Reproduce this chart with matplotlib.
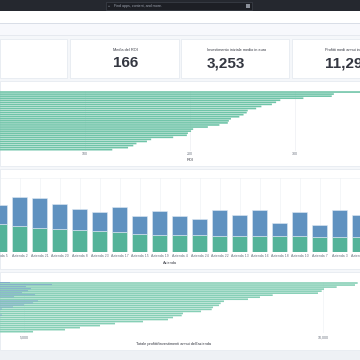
import matplotlib
matplotlib.use('Agg')
import matplotlib.pyplot as plt
from matplotlib.patches import Rectangle
import numpy as np

# ---------------- data ----------------
kpi_titles = ["Media del ROI", "Investimento iniziale medio in euro", "Profitti medi annui in euro"]
kpi_values = ["166", "3,253", "11,298"]

roi_values = [400, 337, 335, 308, 286, 282, 278, 268, 263, 255, 254, 251, 247, 239, 237,
              236, 228, 217, 203, 201, 198, 197, 184, 163, 159, 149, 146, 141, 126]
roi_ticks = [100, 200, 300]

aziende = ["Azienda 5", "Azienda 2", "Azienda 21", "Azienda 20", "Azienda 8", "Azienda 23",
           "Azienda 17", "Azienda 15", "Azienda 19", "Azienda 4", "Azienda 24", "Azienda 22",
           "Azienda 13", "Azienda 16", "Azienda 18", "Azienda 10", "Azienda 7", "Azienda 3",
           "Azienda 12"]
profitti_k = [57, 53, 48, 47, 45, 43, 41, 36, 35, 35, 35, 33, 33, 33, 32, 32, 31, 31, 30]
investimenti_k = [38, 57, 61, 50, 41, 37, 50, 36, 47, 37, 31, 51, 42, 51, 26, 49, 23, 53, 44]

tot_profitti = [10580, 10535, 10229, 10017, 9978, 9916, 9159, 8946, 8746, 8344, 8289, 8261,
                8161, 8139, 7960, 7659, 7637, 7492, 7408, 6990, 6522, 6271, 5936, 5686, 5151]
tot_investimenti = [4766, 5468, 5033, 5117, 5067, 4967, 5184, 4833, 4450, 5234, 5151, 5000,
                    4816, 4632, 4300, 4100, 4632, 3900, 3600, 3400, 3100, 2800, 2500, 2300, 2000]
tot_ticks = [5000, 10000]
tot_ticklabels = ["5,000", "10,000"]

GREEN = '#54B399'
BLUE = '#6092C0'
TXT = '#343741'
SUB = '#69707d'
FONT = ['Liberation Sans Narrow', 'Liberation Sans', 'DejaVu Sans']
plt.rcParams['font.family'] = FONT

W = H = 360
fig = plt.figure(figsize=(3.6, 3.6), dpi=100, facecolor='#f5f7fa')


def fx(x):
    return x / W


def fy(y):
    return 1 - y / H


def rect(x0, y0, x1, y1, fc, ec='none', lw=0, z=-5):
    fig.patches.append(Rectangle((fx(x0), fy(y1)), (x1 - x0) / W, (y1 - y0) / H,
                                 transform=fig.transFigure, facecolor=fc,
                                 edgecolor=ec, linewidth=lw, zorder=z))


def txt(x, y, s, **kw):
    fig.text(fx(x), fy(y), s, **kw)


def add_ax(x0, y0, x1, y1):
    ax = fig.add_axes([fx(x0), fy(y1), (x1 - x0) / W, (y1 - y0) / H])
    ax.set_facecolor('none')
    for s in ax.spines.values():
        s.set_visible(False)
    return ax


# ---------------- chrome ----------------
rect(0, 0, 360, 11, '#25282f')
rect(106, 1.8, 252, 9.6, '#1d1f25', ec='#454954', lw=0.4)
txt(109, 6.0, '○', fontsize=2.4, color='#a0a6b2', va='center', ha='center')
txt(114, 6.0, 'Find apps, content, and more.', fontsize=2.6, color='#a0a6b2', va='center')
rect(245.5, 4.2, 249.5, 7.6, '#8a8f99')
rect(0, 11, 360, 23, 'white')
rect(0, 23, 360, 24, '#d9dee7')
rect(0, 24, 360, 35, '#f7f8fc')
rect(0, 35, 360, 36, '#e6e9ef')

# KPI cards
cards = [(0, 67), (70, 179), (181, 289), (292, 362)]
for (a, b) in cards:
    rect(a, 39, b, 78, 'white', ec='#e3e7ee', lw=0.5)
text_x = [113, 207, 325]
for x, t, v in zip(text_x, kpi_titles, kpi_values):
    txt(x, 51, t, fontsize=2.8, color=TXT, va='baseline')
    txt(x, 67, v, fontsize=11, color=TXT, weight='bold', va='baseline')

# panels
rect(0, 81, 360, 166, 'white', ec='#e3e7ee', lw=0.5)
rect(0, 168.5, 360, 268.5, 'white', ec='#e3e7ee', lw=0.5)
rect(0, 272, 360, 350, 'white', ec='#e3e7ee', lw=0.5)
rect(0, 350.5, 360, 360, '#eef1f5')

# ---------------- panel 1: ROI ----------------
ax1 = add_ax(0, 91, 360, 150.7)
n1 = len(roi_values)
bars1 = ax1.barh(np.arange(n1), roi_values, height=0.8, color='#6fc4a8', zorder=2)
for b in bars1:
    b.set_snap(False)
ax1.set_xlim(20 / 1.05, 380 / 1.05)
ax1.set_ylim(n1 - 0.5, -0.5)
ax1.set_yticks([])
ax1.set_xticks(roi_ticks)
ax1.set_xticklabels([str(t) for t in roi_ticks])
ax1.tick_params(axis='x', length=0, pad=0.9, labelsize=2.6, labelcolor=SUB)
ax1.grid(axis='x', color='#e8ebf0', lw=0.4, zorder=0)
txt(190.5, 160.3, 'ROI', fontsize=2.8, color=TXT, ha='center', va='center')

# ---------------- panel 2: stacked bars ----------------
ax2 = add_ax(0, 178.3, 360, 252.3)
k = np.arange(len(aziende))
ax2.bar(k, profitti_k, width=0.75, color=GREEN, edgecolor='#e4f2ec', linewidth=0.4, zorder=2)
ax2.bar(k, investimenti_k, bottom=profitti_k, width=0.75, color=BLUE,
        edgecolor='#dfe9f3', linewidth=0.4, zorder=2)
ax2.set_xlim(0.01, 18.01)
ax2.set_ylim(0, 148)
ax2.set_yticks([])
ax2.set_xticks(k)
ax2.set_xticklabels(aziende)
ax2.tick_params(axis='x', length=0, pad=1.4, labelsize=2.5, labelcolor=SUB)
ax2.grid(axis='x', color='#eceff3', lw=0.4, zorder=0)
ax2.spines['top'].set_visible(True)
ax2.spines['top'].set_color('#eceff3')
ax2.spines['top'].set_linewidth(0.4)
txt(170, 262.7, 'Azienda', fontsize=2.8, color=TXT, ha='center', va='center')

# ---------------- panel 3: totals ----------------
ax3 = add_ax(0, 282, 360, 332.7)
n3 = len(tot_profitti)
r = np.arange(n3)
bars3a = ax3.barh(r, tot_profitti, height=0.8, color='#86cfb6', zorder=2)
bars3b = ax3.barh(r - 0.2, tot_investimenti, height=0.42, color='#7fa6cc', zorder=3)
for b in list(bars3a) + list(bars3b):
    b.set_snap(False)
ax3.set_xlim(275 / 0.0598, 635 / 0.0598)
ax3.set_ylim(n3 - 0.5, -0.5)
ax3.set_yticks([])
ax3.set_xticks(tot_ticks)
ax3.set_xticklabels(tot_ticklabels)
ax3.tick_params(axis='x', length=0, pad=2.2, labelsize=2.6, labelcolor=SUB)
ax3.grid(axis='x', color='#eceff3', lw=0.4, zorder=0)
txt(174, 344, "Totale profitti/investimenti annui dell'azienda", fontsize=2.8,
    color=TXT, ha='center', va='center')

fig.savefig('out.png', dpi=100, facecolor=fig.get_facecolor())
